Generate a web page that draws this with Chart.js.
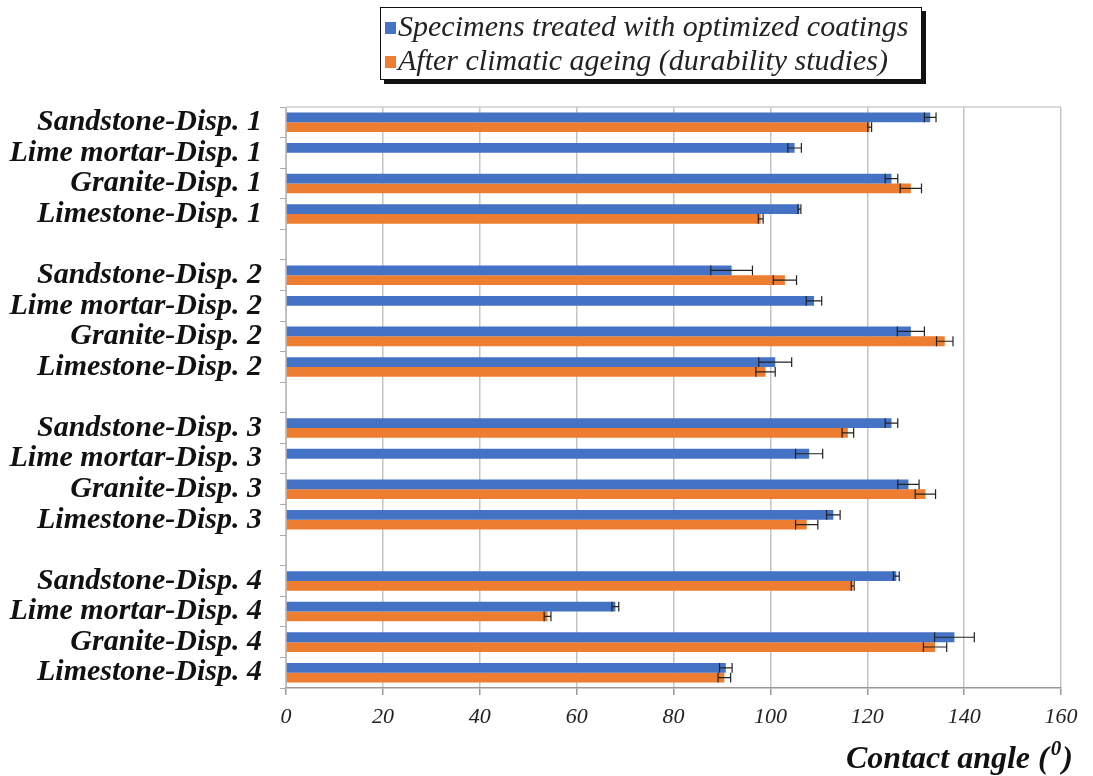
<!DOCTYPE html>
<html>
<head>
<meta charset="utf-8">
<script src="https://cdn.jsdelivr.net/npm/chart.js@4.4.1/dist/chart.umd.min.js"></script>
<style>
  html, body { margin: 0; padding: 0; background: #fff; }
  #wrap { position: relative; width: 1093px; height: 776px; }
  #legend {
    position: absolute; left: 380px; top: 7px; width: 542px; height: 73px;
    border: 1.5px solid #111; background: #fff; box-shadow: 4px 4px 0 #111;
    font-family: "Liberation Serif", serif; font-style: italic; font-size: 30px; color: #222;
    box-sizing: border-box; padding: 1px 0 0 4px;
  }
  #legend div { height: 34px; line-height: 34px; white-space: nowrap; }
  #legend span.box { display: inline-block; width: 11px; height: 12px; margin-right: 2px; vertical-align: 2px; }
</style>
</head>
<body>
<div id="wrap">
  <canvas id="chartAngle"></canvas>
  <div id="legend"></div>
</div>
<script>
  const labels = [
    'Sandstone-Disp. 1', 'Lime mortar-Disp. 1', 'Granite-Disp. 1', 'Limestone-Disp. 1', '',
    'Sandstone-Disp. 2', 'Lime mortar-Disp. 2', 'Granite-Disp. 2', 'Limestone-Disp. 2', '',
    'Sandstone-Disp. 3', 'Lime mortar-Disp. 3', 'Granite-Disp. 3', 'Limestone-Disp. 3', '',
    'Sandstone-Disp. 4', 'Lime mortar-Disp. 4', 'Granite-Disp. 4', 'Limestone-Disp. 4'
  ];
  const treated    = [133, 105, 125, 106, null,  92, 109, 129, 101, null, 125, 108, 128.5, 113, null, 126, 68, 138, 90.8];
  const treatedErr = [1.2, 1.4, 1.3, 0.3, null, 4.3, 1.6, 2.8, 3.4, null, 1.3, 2.8, 2.2, 1.4, null, 0.6, 0.7, 4.1, 1.3];
  const aged       = [120.5, null, 129, 98, null, 103, null, 136, 99, null, 116, null, 132, 107.5, null, 117, 54, 134, 90.5];
  const agedErr    = [0.4, null, 2.2, 0.5, null, 2.4, null, 1.7, 2, null, 1.2, null, 2.1, 2.3, null, 0.3, 0.7, 2.4, 1.3];
  const xTicks     = [0, 20, 40, 60, 80, 100, 120, 140, 160];

  const blue   = '#4472c4';
  const orange = '#ed7d31';
  const serif  = "'Liberation Serif', 'Times New Roman', serif";

  // error bars drawn from the x scale
  const errorBars = {
    id: 'errorBars',
    afterDatasetsDraw(chart) {
      const ctx = chart.ctx;
      const xs = chart.scales.x;
      const errs = [treatedErr, agedErr];
      chart.data.datasets.forEach((ds, i) => {
        const meta = chart.getDatasetMeta(i);
        meta.data.forEach((bar, j) => {
          const v = ds.data[j], e = errs[i][j];
          if (v == null || e == null) return;
          const x1 = xs.getPixelForValue(v - e);
          const x2 = xs.getPixelForValue(v + e);
          const h = bar.height / 2;
          ctx.save();
          ctx.strokeStyle = '#222';
          ctx.lineWidth = 1.2;
          ctx.beginPath();
          ctx.moveTo(x1, bar.y); ctx.lineTo(x2, bar.y);
          ctx.moveTo(x1, bar.y - h); ctx.lineTo(x1, bar.y + h);
          ctx.moveTo(x2, bar.y - h); ctx.lineTo(x2, bar.y + h);
          ctx.stroke();
          ctx.restore();
        });
      });
    }
  };

  // frame + axis title
  const frame = {
    id: 'frame',
    beforeDatasetsDraw(chart) {
      const { ctx, chartArea: a } = chart;
      ctx.save();
      ctx.strokeStyle = '#cfcfcf';
      ctx.lineWidth = 1.5;
      ctx.beginPath();
      ctx.moveTo(a.left, a.top); ctx.lineTo(a.right, a.top);
      ctx.stroke();
      ctx.restore();
    },
    afterDraw(chart) {
      const ctx = chart.ctx;
      ctx.save();
      ctx.fillStyle = '#111';
      ctx.textBaseline = 'alphabetic';
      ctx.font = "italic bold 32px " + serif;
      const t = 'Contact angle (';
      const x0 = 846, y0 = 768;
      ctx.fillText(t, x0, y0);
      let w = ctx.measureText(t).width;
      ctx.font = "italic bold 21px " + serif;
      ctx.fillText('0', x0 + w + 2, y0 - 13);
      w += ctx.measureText('0').width + 3;
      ctx.font = "italic bold 32px " + serif;
      ctx.fillText(')', x0 + w, y0);
      ctx.restore();
    }
  };

  const chart = new Chart(document.getElementById('chartAngle'), {
    type: 'bar',
    data: {
      labels: labels,
      datasets: [
        { label: 'Specimens treated with optimized coatings', data: treated, backgroundColor: blue },
        { label: 'After climatic ageing (durability studies)', data: aged, backgroundColor: orange }
      ]
    },
    options: {
      indexAxis: 'y',
      responsive: true,
      maintainAspectRatio: false,
      animation: false,
      layout: { padding: { top: 107, right: 32, left: 0, bottom: 0 } },
      datasets: { bar: { barPercentage: 1, categoryPercentage: 0.64 } },
      plugins: { legend: { display: false }, tooltip: { enabled: false } },
      scales: {
        x: {
          min: 0, max: 160,
          afterBuildTicks: s => { s.ticks = xTicks.map(v => ({ value: v })); },
          afterFit: s => { s.height = 88; },
          grid: { color: '#c4c4c4', lineWidth: 1.5, tickLength: 7, tickColor: '#999' },
          border: { color: '#999', width: 1.5 },
          ticks: { color: '#222', padding: 9, font: { family: serif, style: 'italic', size: 22 } }
        },
        y: {
          afterFit: s => { s.width = 286; },
          grid: { offset: true, drawOnChartArea: false, tickLength: 6, color: '#aaa' },
          border: { color: '#bbb', width: 1 },
          ticks: { color: '#111', padding: 18, autoSkip: false,
                   font: { family: serif, style: 'italic', weight: 'bold', size: 30 } }
        }
      }
    },
    plugins: [errorBars, frame]
  });

  // legend built from chart datasets
  const leg = document.getElementById('legend');
  chart.data.datasets.forEach(ds => {
    const row = document.createElement('div');
    const box = document.createElement('span');
    box.className = 'box';
    box.style.background = ds.backgroundColor;
    row.appendChild(box);
    row.appendChild(document.createTextNode(ds.label));
    leg.appendChild(row);
  });
</script>
</body>
</html>
